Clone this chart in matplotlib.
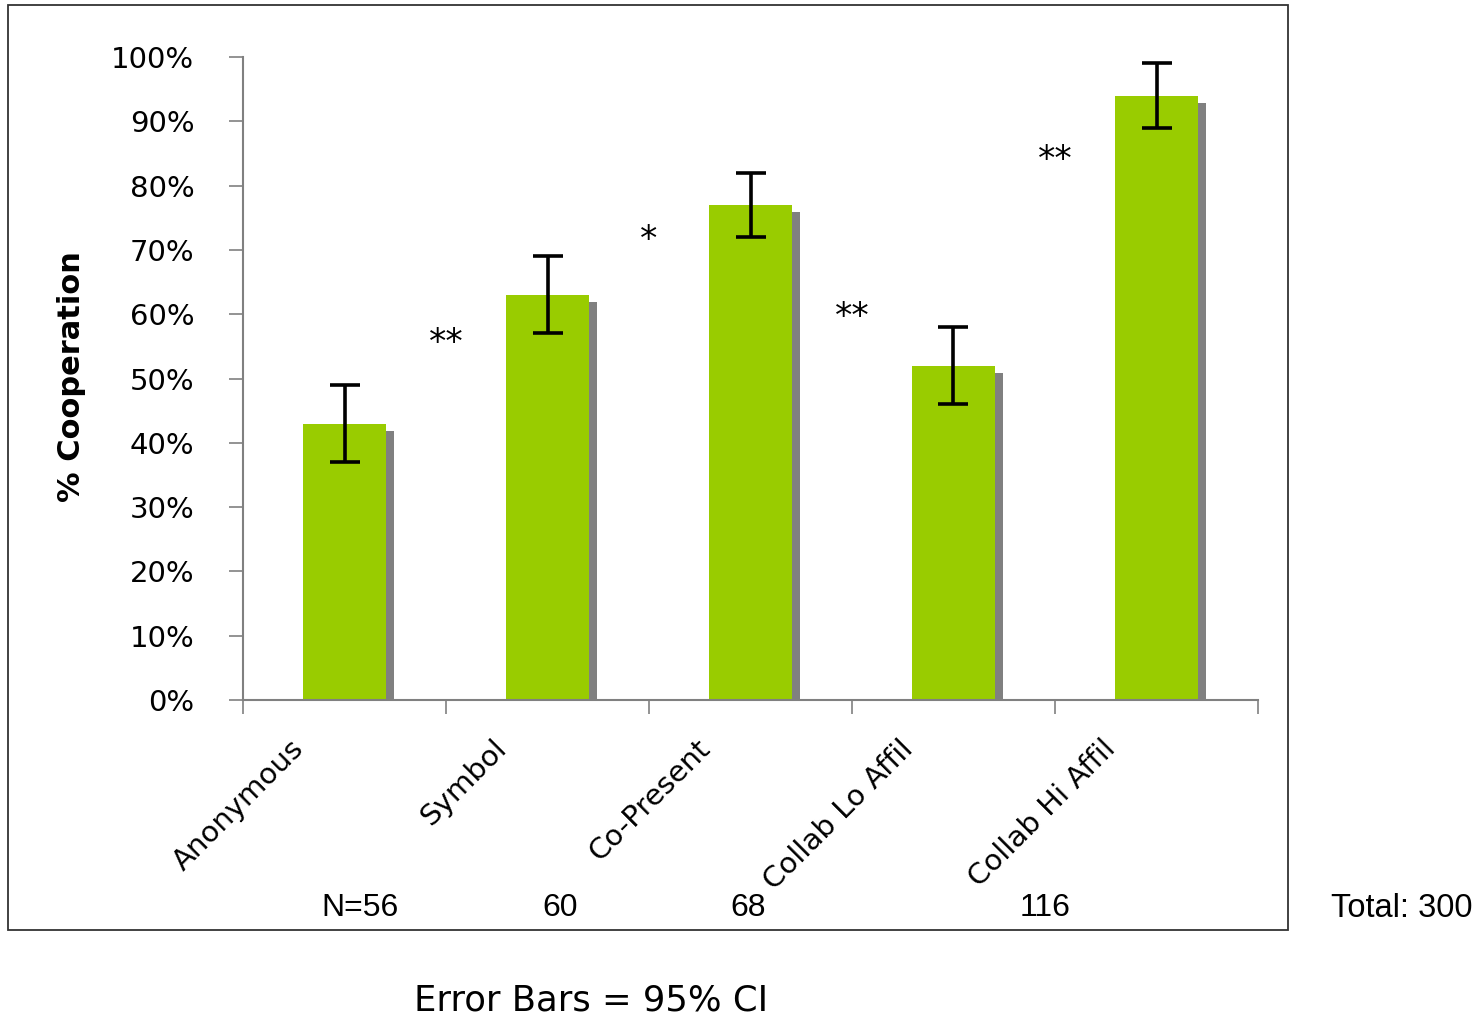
# -*- coding: utf-8 -*-
# Gráfico de barras: % de cooperação por condição, com IC 95%
import numpy as np
import matplotlib.pyplot as plt
from matplotlib.patches import Rectangle
from matplotlib.transforms import ScaledTranslation

# Dados
condicoes = ['Anonymous', 'Symbol', 'Co-Present', 'Collab Lo Affil', 'Collab Hi Affil']
cooperacao = [0.43, 0.63, 0.77, 0.52, 0.94]
ic_inferior = [0.37, 0.57, 0.72, 0.46, 0.89]
ic_superior = [0.49, 0.69, 0.82, 0.58, 0.99]
estrelas = ['**', '*', '**', '**']
estrelas_y = [0.555, 0.715, 0.595, 0.84]
n_rotulos = ['N=56', '60', '68', '116']
n_x = [360, 560, 748, 1045]

verde = '#99cc00'
cinza = '#808080'

fig = plt.figure(figsize=(14.82, 10.21), dpi=100)
ax = fig.add_axes([243 / 1482, 1 - 700 / 1021, (1258 - 243) / 1482, (700 - 57) / 1021])

x = np.arange(len(condicoes))
largura = 0.404

# sombra das barras
ax.bar(x + 0.04, np.array(cooperacao) - 0.011, width=largura, color=cinza, zorder=1)
# barras
ax.bar(x, cooperacao, width=largura, color=verde, zorder=2)

# barras de erro
erro = [np.array(cooperacao) - np.array(ic_inferior), np.array(ic_superior) - np.array(cooperacao)]
ax.errorbar(x, cooperacao, yerr=erro, fmt='none', ecolor='black', elinewidth=2.6,
            capsize=10.5, capthick=2.6, zorder=3)

# estrelas de significância
for i, s in enumerate(estrelas):
    ax.text(i + 0.5, estrelas_y[i], s, ha='center', va='center', fontsize=25, color='black')

# eixos
ax.set_xlim(-0.5, len(condicoes) - 0.5)
ax.set_ylim(0, 1)
ax.set_yticks(np.arange(0, 1.01, 0.1))
ax.set_yticklabels([f'{int(round(v * 100))}%' for v in np.arange(0, 1.01, 0.1)], fontsize=21)
ax.tick_params(axis='y', direction='out', length=10, width=1.2, color=cinza, pad=25)

ax.set_xticks(x)
ax.set_xticklabels(condicoes, rotation=45, ha='right', va='top', fontsize=21)
ax.set_xticks(np.arange(-0.5, len(condicoes)), minor=True)
ax.tick_params(axis='x', which='major', length=0, pad=25)
ax.tick_params(axis='x', which='minor', direction='out', length=10, width=1.2, color=cinza)
for lbl in ax.get_xticklabels():
    lbl.set_transform(lbl.get_transform() + ScaledTranslation(-0.35, 0, fig.dpi_scale_trans))

for lado in ['top', 'right']:
    ax.spines[lado].set_visible(False)
ax.spines['left'].set_color(cinza)
ax.spines['bottom'].set_color(cinza)
ax.spines['left'].set_linewidth(1.5)
ax.spines['bottom'].set_linewidth(1.5)

fig.text(72 / 1482, 1 - 377 / 1021, '% Cooperation', rotation=90, ha='center', va='center',
         fontsize=22, fontweight='bold')

# moldura da área do gráfico
fig.patches.append(Rectangle((8 / 1482, 1 - 930 / 1021), 1280 / 1482, 925 / 1021,
                             transform=fig.transFigure, fill=False, edgecolor='#333333', linewidth=1.3))

# tamanhos das amostras
for nx, rot in zip(n_x, n_rotulos):
    fig.text(nx / 1482, 1 - 908 / 1021, rot, ha='center', va='center',
             fontsize=23, family='Liberation Sans')
fig.text(1402 / 1482, 1 - 908 / 1021, 'Total: 300', ha='center', va='center',
         fontsize=23.5, family='Liberation Sans')

fig.text(591 / 1482, 1 - 1000 / 1021, 'Error Bars = 95% CI', ha='center', va='center', fontsize=25.5)

fig.savefig('out.png', dpi=100, facecolor='white')
